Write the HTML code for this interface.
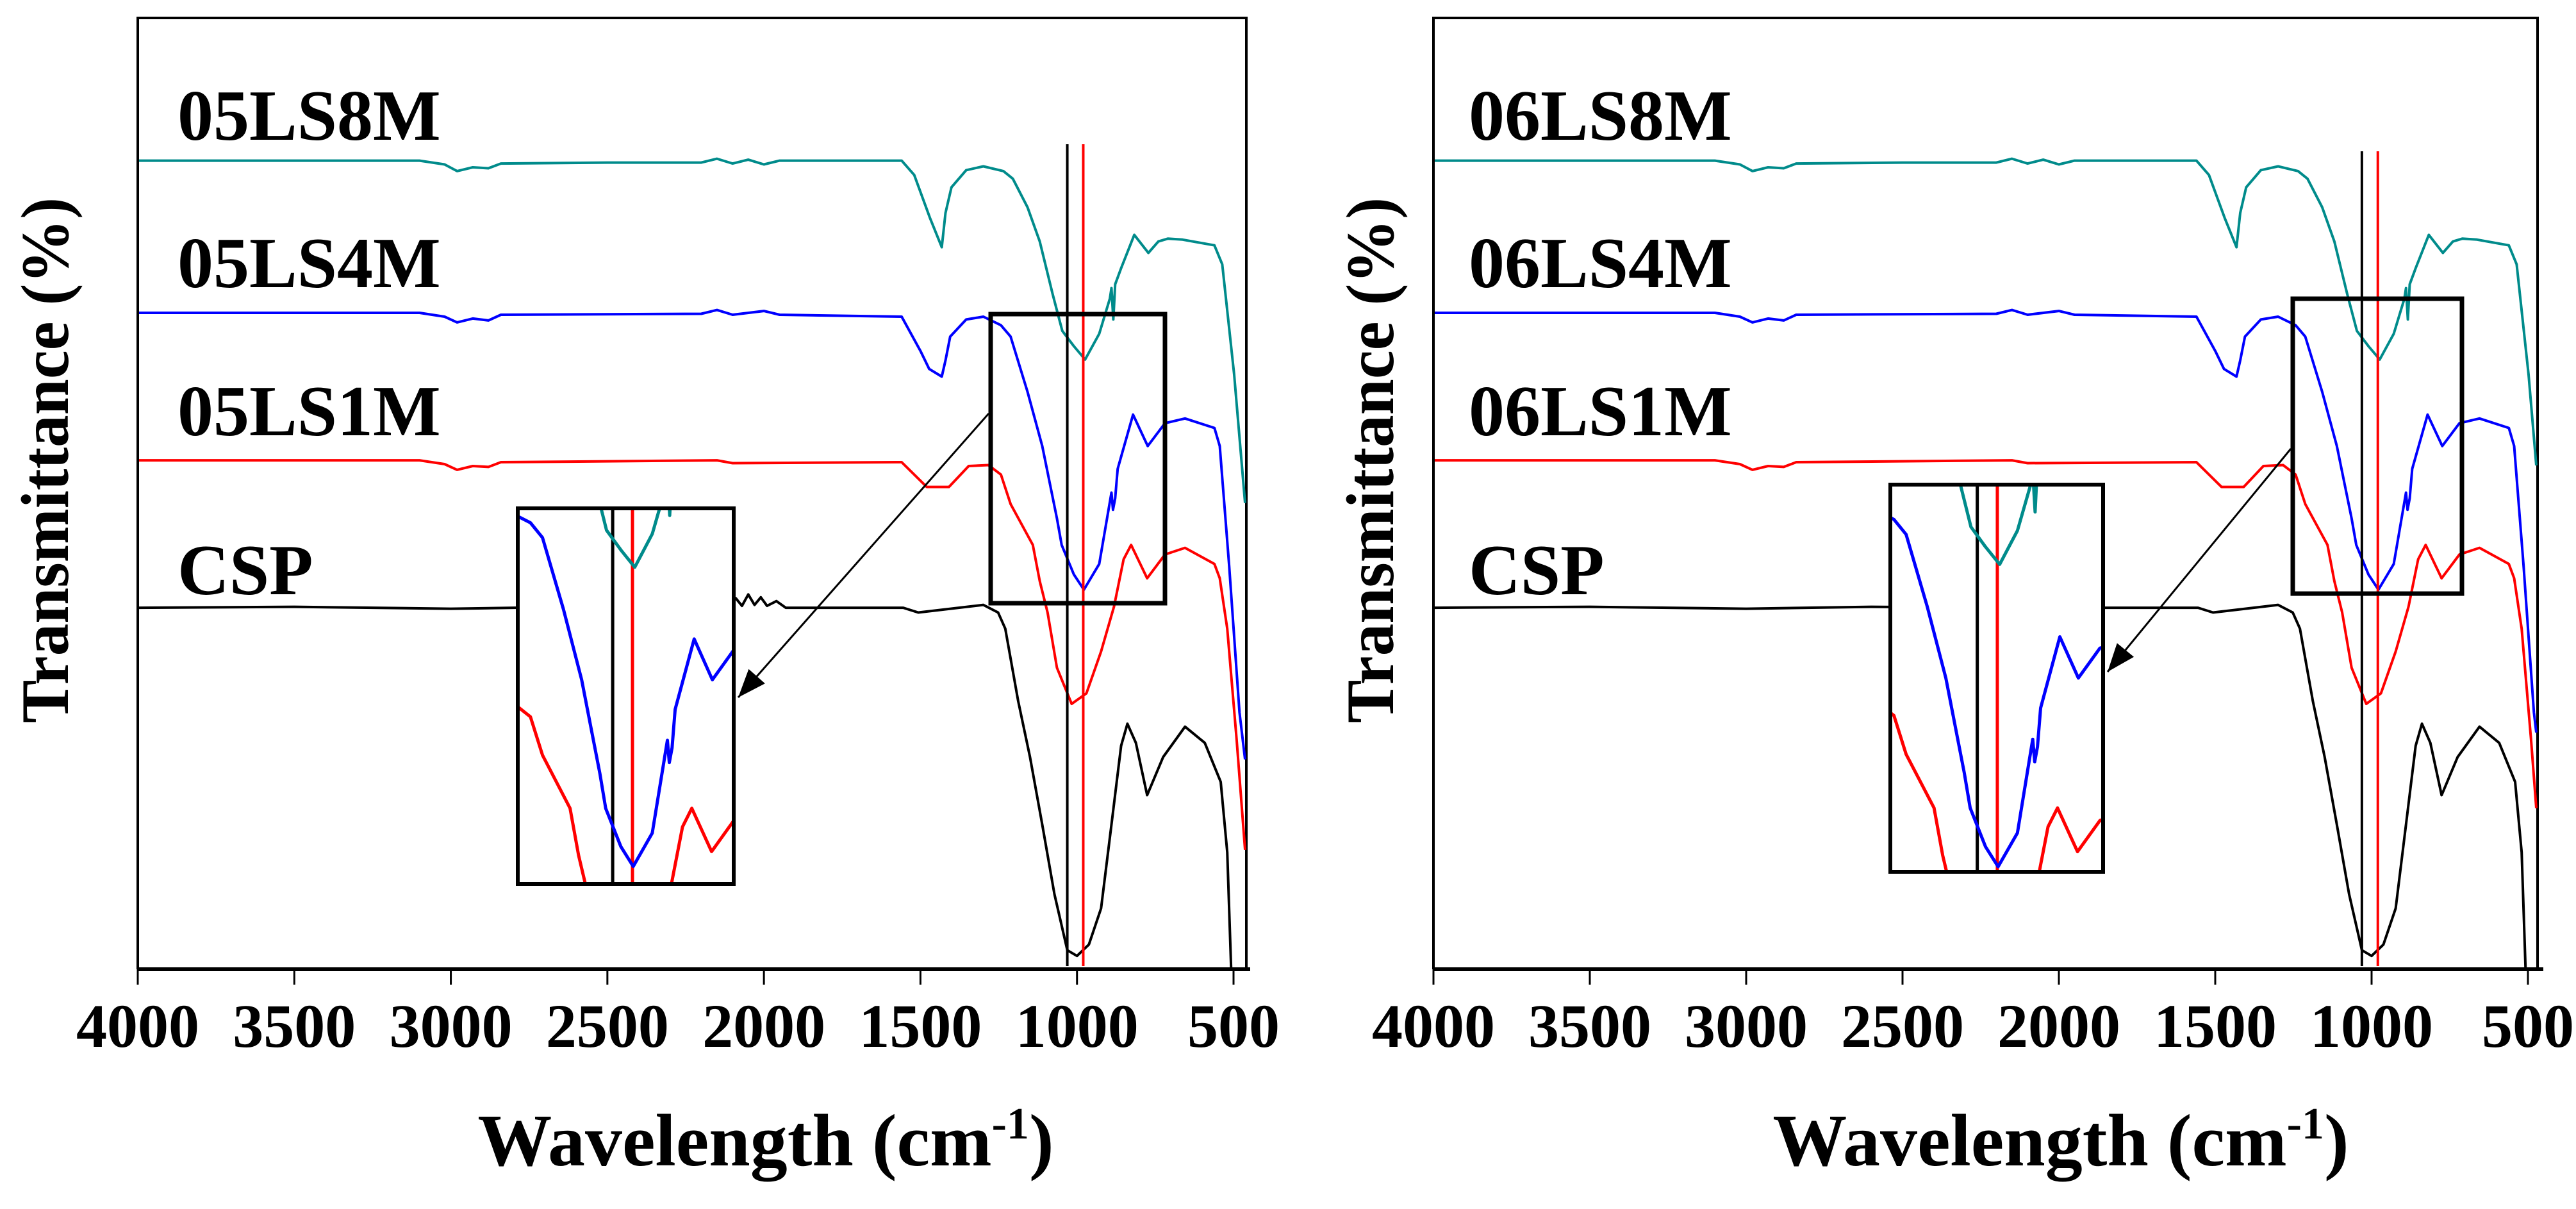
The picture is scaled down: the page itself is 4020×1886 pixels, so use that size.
<!DOCTYPE html>
<html><head><meta charset="utf-8"><style>
html,body{margin:0;padding:0;background:#fff;width:4020px;height:1886px;overflow:hidden;}
svg{display:block;overflow:hidden;position:absolute;left:0;top:0;}
text{font-family:"Liberation Serif","Times New Roman",serif;font-weight:bold;fill:#000;}
</style></head><body>
<svg id="chart" width="4020" height="1886" viewBox="0 0 4020 1886" xmlns="http://www.w3.org/2000/svg">
<g id="root"></g>
</svg>
<script>
// ---- data (wavenumber cm-1, transmittance a.u.) ----
const xTicks = [4000, 3500, 3000, 2500, 2000, 1500, 1000, 500];
const xTickLabels = ["4000", "3500", "3000", "2500", "2000", "1500", "1000", "500"];
const seriesNames = ["CSP", "LS1M", "LS4M", "LS8M"];
const markerLines = [1031, 980];
const teal8M = [[4000,85],[3100,85],[3020,84.6],[2980,83.9],[2930,84.3],[2880,84.2],[2840,84.7],[2500,84.8],[2200,84.8],[2150,85.2],[2100,84.7],[2050,85.1],[2000,84.6],[1950,85],[1560,85],[1520,83.5],[1470,79],[1432,75.9],[1420,79.5],[1401,82.2],[1354,84.0],[1299,84.4],[1235,83.9],[1205,83.1],[1158,80.1],[1119,76.5],[1078,71.0],[1047,67.1],[1010,65.5],[974,64.1],[929,66.8],[895,70.5],[890,71.6],[884,68.3],[878,72],[859,73.7],[817,77.2],[772,75.3],[740,76.5],[710,76.8],[663,76.7],[561,76.1],[536,74.1],[498,62.5],[459,47.4]];
const blue4M = [[4000,69],[3100,69],[3020,68.6],[2980,68.0],[2930,68.4],[2880,68.2],[2840,68.8],[2200,68.9],[2150,69.3],[2100,68.8],[2000,69.2],[1950,68.8],[1560,68.6],[1500,65],[1472,63.1],[1432,62.3],[1420,64],[1405,66.5],[1354,68.3],[1299,68.6],[1243,67.7],[1212,66.5],[1158,60.7],[1111,55.0],[1064,47.4],[1049,44.6],[1010,41.5],[978,39.9],[929,42.6],[890,50.1],[885,48.3],[878,49.5],[870,52.6],[821,58.3],[774,55.0],[719,57.4],[655,57.9],[561,56.9],[544,55.0],[514,42.4],[481,27.0],[451,18.7]];
const red1M = [[4000,53.5],[3100,53.5],[3020,53.1],[2980,52.5],[2930,52.9],[2880,52.8],[2840,53.3],[2150,53.5],[2100,53.2],[1560,53.3],[1480,50.7],[1409,50.7],[1346,52.9],[1283,53.0],[1243,52.0],[1212,48.9],[1141,44.6],[1119,40.8],[1094,37.5],[1064,31.7],[1017,27.9],[970,29.0],[923,33.4],[882,38.1],[851,43.1],[827,44.6],[776,41.1],[719,43.6],[655,44.3],[561,42.6],[544,41.1],[520,35.8],[490,24.1],[451,7.3]];
const blackCSP = [[4000,38],[3500,38.1],[3000,37.9],[2600,38.1],[2200,38],[2120,38.3],[2090,39.0],[2070,38.2],[2050,39.4],[2030,38.3],[2010,39.1],[1990,38.2],[1960,38.7],[1930,38],[1555,38],[1507,37.5],[1299,38.3],[1252,37.5],[1229,35.8],[1188,28.2],[1150,22.3],[1111,15.2],[1072,7.9],[1031,2.0],[1000,1.4],[962,2.6],[923,6.4],[890,15.2],[859,23.5],[839,25.8],[812,23.8],[776,18.3],[725,22.3],[655,25.5],[592,23.8],[541,19.7],[520,12.3],[506,-1.5]];

const NS = "http://www.w3.org/2000/svg";
const root = document.getElementById('root');
function mk(tag, attrs, parent){
  const e = document.createElementNS(NS, tag);
  for (const k in attrs) e.setAttribute(k, attrs[k]);
  (parent || root).appendChild(e);
  return e;
}
const yTop = 28, yBot = 1512;
function yScale(t){ return yBot - t * (yBot - yTop) / 100; }

// clip a segment to rect (Liang-Barsky); returns null or [x1,y1,x2,y2]
function clipSeg(x1,y1,x2,y2,R){
  let t0=0,t1=1; const dx=x2-x1, dy=y2-y1;
  const p=[-dx,dx,-dy,dy], q=[x1-R[0],R[2]-x1,y1-R[1],R[3]-y1];
  for(let i=0;i<4;i++){
    if(p[i]===0){ if(q[i]<0) return null; }
    else { const r=q[i]/p[i]; if(p[i]<0){ if(r>t1) return null; if(r>t0) t0=r; } else { if(r<t0) return null; if(r<t1) t1=r; } }
  }
  return [x1+t0*dx, y1+t0*dy, x1+t1*dx, y1+t1*dy];
}
// clip polyline to rect R and build path string after mapping with f
function clippedPath(pts, R, f){
  let d='', last=null;
  for(let i=1;i<pts.length;i++){
    const s=clipSeg(pts[i-1][0],pts[i-1][1],pts[i][0],pts[i][1],R);
    if(!s){ last=null; continue; }
    const a=f(s[0],s[1]), b=f(s[2],s[3]);
    if(!last || Math.abs(last[0]-s[0])>0.01 || Math.abs(last[1]-s[1])>0.01) d+=`M${a[0].toFixed(1)},${a[1].toFixed(1)} `;
    d+=`L${b[0].toFixed(1)},${b[1].toFixed(1)} `;
    last=[s[2],s[3]];
  }
  return d || 'M0,0';
}

const panels = [
  {id:'left', prefix:'05', x4000:215, x500:1925, right:1945, axisEnd:1951, titleX:106, labelX:277,
   rect:[1546,490,1818,941], inset:[808,793,1145,1379], arrow:[1543,645,1152,1088], vTop:225},
  {id:'right', prefix:'06', x4000:2237, x500:3945, right:3960, axisEnd:3969, titleX:2174, labelX:2292,
   rect:[3578,466,3842,926], inset:[2950,756,3282,1360], arrow:[3575,700,3289,1048], vTop:236}
];
const seriesList = [
  {data: blackCSP, color:'#000000', name:'csp-spectrum'},
  {data: red1M, color:'#ff0000', name:'ls1m-spectrum'},
  {data: blue4M, color:'#0000ff', name:'ls4m-spectrum'},
  {data: teal8M, color:'#008b8b', name:'ls8m-spectrum'}
];
const labelBaselines = [927, 679, 448, 218];

panels.forEach(p => {
  const sx = (p.x500 - p.x4000) / 3500;
  const xScale = wn => p.x4000 + (4000 - wn) * sx;
  const plotR = [p.x4000+2, yTop, p.right-2, yBot];
  const ident = (x,y) => [x,y];
  const panel = mk('g', {});
  
  

  const frame = mk('path', {d:`M${p.x4000},${yBot} L${p.x4000},${yTop} L${p.right},${yTop} L${p.right},${yBot}`, fill:'none', stroke:'#000', 'stroke-width':4}, panel);
  
  
  const xAxis = mk('line', {x1:p.x4000, y1:yBot, x2:p.axisEnd, y2:yBot, stroke:'#000', 'stroke-width':6}, panel);
  
  

  xTicks.forEach((v, i) => {
    const x = xScale(v);
    const t = mk('line', {x1:x, y1:yBot, x2:x, y2:yBot + 24, stroke:'#000', 'stroke-width':3}, panel);
    
    
    const lb = mk('text', {x:x, y:1633, 'font-size':96, 'text-anchor':'middle'}, panel);
    lb.textContent = xTickLabels[i];
    
    
  });

  const curves = mk('g', {}, panel);
  
  
  const screenPts = seriesList.map(s => s.data.map(pt => [xScale(pt[0]), yScale(pt[1])]));
  seriesList.forEach((s, si) => {
    const path = mk('path', {d:clippedPath(screenPts[si], plotR, ident), fill:'none', stroke:s.color, 'stroke-width':4, 'stroke-linejoin':'round'}, curves);
    
    
  });
  markerLines.forEach((wn, i) => {
    const l = mk('line', {x1:xScale(wn), y1:p.vTop, x2:xScale(wn), y2:1507, stroke: i ? '#ff0000' : '#000', 'stroke-width':4}, curves);
    
    
  });

  const r = p.rect;
  const zr = mk('rect', {x:r[0], y:r[1], width:r[2]-r[0], height:r[3]-r[1], fill:'none', stroke:'#000', 'stroke-width':7}, panel);
  
  

  // inset (magnified copy of the rect region)
  const ins = p.inset;
  const kx = (ins[2]-ins[0])/(r[2]-r[0]), ky = (ins[3]-ins[1])/(r[3]-r[1]);
  const mapI = (x,y) => [ins[0] + (x-r[0])*kx, ins[1] + (y-r[1])*ky];
  const bg = mk('rect', {x:ins[0], y:ins[1], width:ins[2]-ins[0], height:ins[3]-ins[1], fill:'#fff'}, panel);
  
  
  const ig = mk('g', {}, panel);
  
  
  markerLines.forEach((wn, i) => {
    const x = mapI(xScale(wn), 0)[0];
    const l = mk('line', {x1:x, y1:ins[1], x2:x, y2:ins[3], stroke: i ? '#ff0000' : '#000', 'stroke-width':5}, ig);
    
    
  });
  seriesList.forEach((s, si) => {
    const path = mk('path', {d:clippedPath(screenPts[si], r, mapI), fill:'none', stroke:s.color, 'stroke-width':5, 'stroke-linejoin':'round'}, ig);
    
    
  });
  const ib = mk('rect', {x:ins[0], y:ins[1], width:ins[2]-ins[0], height:ins[3]-ins[1], fill:'none', stroke:'#000', 'stroke-width':6}, panel);
  
  

  const a = p.arrow;
  const ar = mk('line', {x1:a[0], y1:a[1], x2:a[2], y2:a[3], stroke:'#000', 'stroke-width':3}, panel);
  
  
  const ang = Math.atan2(a[3]-a[1], a[2]-a[0]);
  const L = 44, W = 17;
  const bx = a[2] - L*Math.cos(ang), by = a[3] - L*Math.sin(ang);
  const px = -Math.sin(ang)*W, py = Math.cos(ang)*W;
  const head = mk('path', {d:`M${a[2]},${a[3]} L${bx+px},${by+py} L${bx-px},${by-py} Z`, fill:'#000'}, panel);
  
  

  seriesNames.forEach((n, i) => {
    const t = mk('text', {x:p.labelX, y:labelBaselines[i], 'font-size':112}, panel);
    t.textContent = n === 'CSP' ? 'CSP' : p.prefix + n;
    
    
  });

  const yt = mk('text', {x:0, y:0, 'font-size':106, 'text-anchor':'middle', textLength:820, lengthAdjust:'spacingAndGlyphs', transform:`translate(${p.titleX},718) rotate(-90)`}, panel);
  yt.textContent = 'Transmittance (%)';
  
  

  const xt = mk('text', {x:(p.x4000 + p.x500)/2 + 125, y:1818, 'font-size':116, 'text-anchor':'middle'}, panel);
  
  
  const t1 = mk('tspan', {}, xt); t1.textContent = 'Wavelength (cm';
  const t2 = mk('tspan', {dy:-42, 'font-size':70}, xt); t2.textContent = '-1';
  const t3 = mk('tspan', {dy:42}, xt); t3.textContent = ')';
});
</script>
</body></html>
